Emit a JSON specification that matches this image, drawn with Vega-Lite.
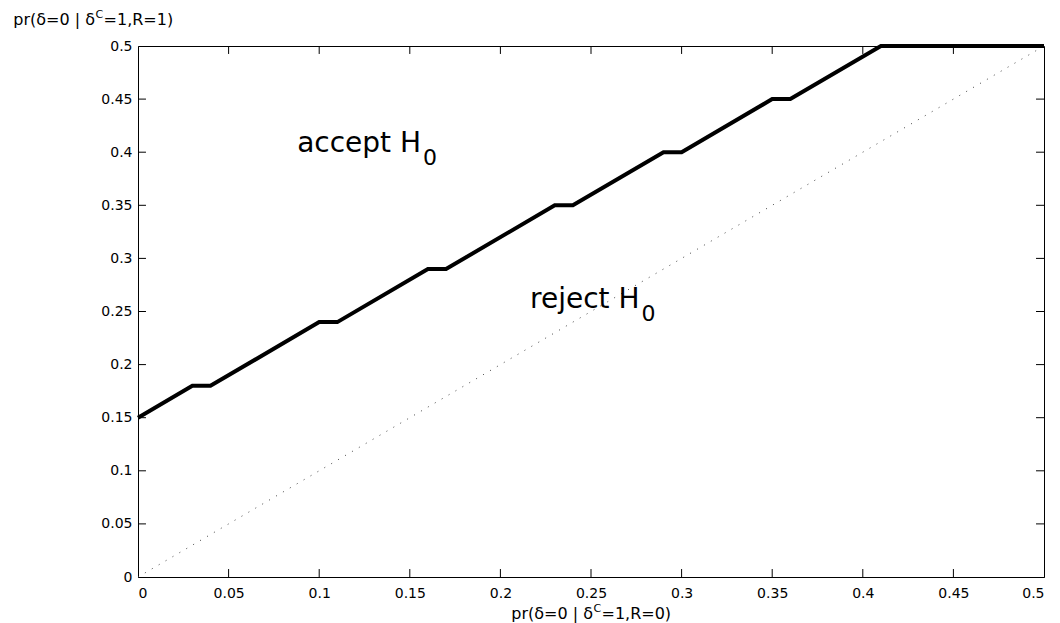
{
  "$schema": "https://vega.github.io/schema/vega-lite/v6.json",
  "width": 906,
  "height": 531,
  "autosize": "none",
  "padding": {"left": 138, "top": 46, "right": 16, "bottom": 46},
  "background": "white",
  "config": {
    "font": "DejaVu Sans",
    "view": {"stroke": "black", "strokeWidth": 1},
    "axis": {
      "grid": false,
      "domainColor": "black",
      "domainWidth": 1,
      "labelColor": "black",
      "labelFont": "DejaVu Sans",
      "labelFontSize": 14
    }
  },
  "datasets": {
    "threshold": [
      {"x": 0, "y": 0.15},
      {"x": 0.03, "y": 0.18},
      {"x": 0.04, "y": 0.18},
      {"x": 0.10, "y": 0.24},
      {"x": 0.11, "y": 0.24},
      {"x": 0.16, "y": 0.29},
      {"x": 0.17, "y": 0.29},
      {"x": 0.23, "y": 0.35},
      {"x": 0.24, "y": 0.35},
      {"x": 0.29, "y": 0.40},
      {"x": 0.30, "y": 0.40},
      {"x": 0.35, "y": 0.45},
      {"x": 0.36, "y": 0.45},
      {"x": 0.41, "y": 0.50},
      {"x": 0.50, "y": 0.50}
    ],
    "diagonal": [
      {"x": 0, "y": 0},
      {"x": 0.5, "y": 0.5}
    ],
    "ticks": [
      {"v": 0.05}, {"v": 0.1}, {"v": 0.15}, {"v": 0.2}, {"v": 0.25},
      {"v": 0.3}, {"v": 0.35}, {"v": 0.4}, {"v": 0.45}
    ],
    "regionText": [
      {"x": 0.1562, "y": 0.4, "main": "accept H", "sub": "0"},
      {"x": 0.2768, "y": 0.2533, "main": "reject H", "sub": "0"}
    ],
    "axisTitles": [
      {"x": -0.0237, "y": 0.5198, "pre": "pr(δ=0 | δ", "sup": "C", "post": "=1,R=1)"},
      {"x": 0.2511, "y": -0.0395, "pre": "pr(δ=0 | δ", "sup": "C", "post": "=1,R=0)"}
    ]
  },
  "layer": [
    {
      "data": {"name": "diagonal"},
      "mark": {"type": "line", "color": "#444444", "strokeWidth": 1, "strokeDash": [1, 7]},
      "encoding": {
        "x": {"field": "x", "type": "quantitative", "scale": {"domain": [0, 0.5], "nice": false},
              "axis": {"orient": "bottom", "title": null, "ticks": false, "format": "~g", "labelPadding": 9, "labelBaseline": "top",
                       "values": [0, 0.05, 0.1, 0.15, 0.2, 0.25, 0.3, 0.35, 0.4, 0.45, 0.5]}},
        "y": {"field": "y", "type": "quantitative", "scale": {"domain": [0, 0.5], "nice": false},
              "axis": {"orient": "left", "title": null, "ticks": false, "format": "~g", "labelPadding": 6,
                       "values": [0, 0.05, 0.1, 0.15, 0.2, 0.25, 0.3, 0.35, 0.4, 0.45, 0.5]}}
      }
    },
    {
      "data": {"name": "ticks"},
      "mark": {"type": "rule", "color": "black", "strokeWidth": 1},
      "encoding": {
        "x": {"field": "v", "type": "quantitative"},
        "y": {"datum": 0, "type": "quantitative"},
        "y2": {"datum": 0.0075}
      }
    },
    {
      "data": {"name": "ticks"},
      "mark": {"type": "rule", "color": "black", "strokeWidth": 1},
      "encoding": {
        "x": {"field": "v", "type": "quantitative"},
        "y": {"datum": 0.5, "type": "quantitative"},
        "y2": {"datum": 0.4925}
      }
    },
    {
      "data": {"name": "ticks"},
      "mark": {"type": "rule", "color": "black", "strokeWidth": 1},
      "encoding": {
        "y": {"field": "v", "type": "quantitative"},
        "x": {"datum": 0, "type": "quantitative"},
        "x2": {"datum": 0.0044}
      }
    },
    {
      "data": {"name": "ticks"},
      "mark": {"type": "rule", "color": "black", "strokeWidth": 1},
      "encoding": {
        "y": {"field": "v", "type": "quantitative"},
        "x": {"datum": 0.5, "type": "quantitative"},
        "x2": {"datum": 0.4956}
      }
    },
    {
      "data": {"name": "threshold"},
      "mark": {"type": "line", "color": "black", "strokeWidth": 4, "clip": false},
      "encoding": {
        "x": {"field": "x", "type": "quantitative"},
        "y": {"field": "y", "type": "quantitative"}
      }
    },
    {
      "data": {"name": "regionText"},
      "mark": {"type": "text", "align": "right", "baseline": "alphabetic", "fontSize": 28, "font": "DejaVu Sans", "color": "black"},
      "encoding": {
        "x": {"field": "x", "type": "quantitative"},
        "y": {"field": "y", "type": "quantitative"},
        "text": {"field": "main"}
      }
    },
    {
      "data": {"name": "regionText"},
      "mark": {"type": "text", "align": "left", "baseline": "alphabetic", "fontSize": 22, "font": "DejaVu Sans", "color": "black", "dx": 2, "dy": 13},
      "encoding": {
        "x": {"field": "x", "type": "quantitative"},
        "y": {"field": "y", "type": "quantitative"},
        "text": {"field": "sub"}
      }
    },
    {
      "data": {"name": "axisTitles"},
      "mark": {"type": "text", "align": "right", "baseline": "alphabetic", "fontSize": 16, "font": "DejaVu Sans", "color": "black", "clip": false},
      "encoding": {
        "x": {"field": "x", "type": "quantitative"},
        "y": {"field": "y", "type": "quantitative"},
        "text": {"field": "pre"}
      }
    },
    {
      "data": {"name": "axisTitles"},
      "mark": {"type": "text", "align": "left", "baseline": "alphabetic", "fontSize": 11, "font": "DejaVu Sans", "color": "black", "dx": 0.5, "dy": -7, "clip": false},
      "encoding": {
        "x": {"field": "x", "type": "quantitative"},
        "y": {"field": "y", "type": "quantitative"},
        "text": {"field": "sup"}
      }
    },
    {
      "data": {"name": "axisTitles"},
      "mark": {"type": "text", "align": "left", "baseline": "alphabetic", "fontSize": 16, "font": "DejaVu Sans", "color": "black", "dx": 8.5, "clip": false},
      "encoding": {
        "x": {"field": "x", "type": "quantitative"},
        "y": {"field": "y", "type": "quantitative"},
        "text": {"field": "post"}
      }
    }
  ]
}
